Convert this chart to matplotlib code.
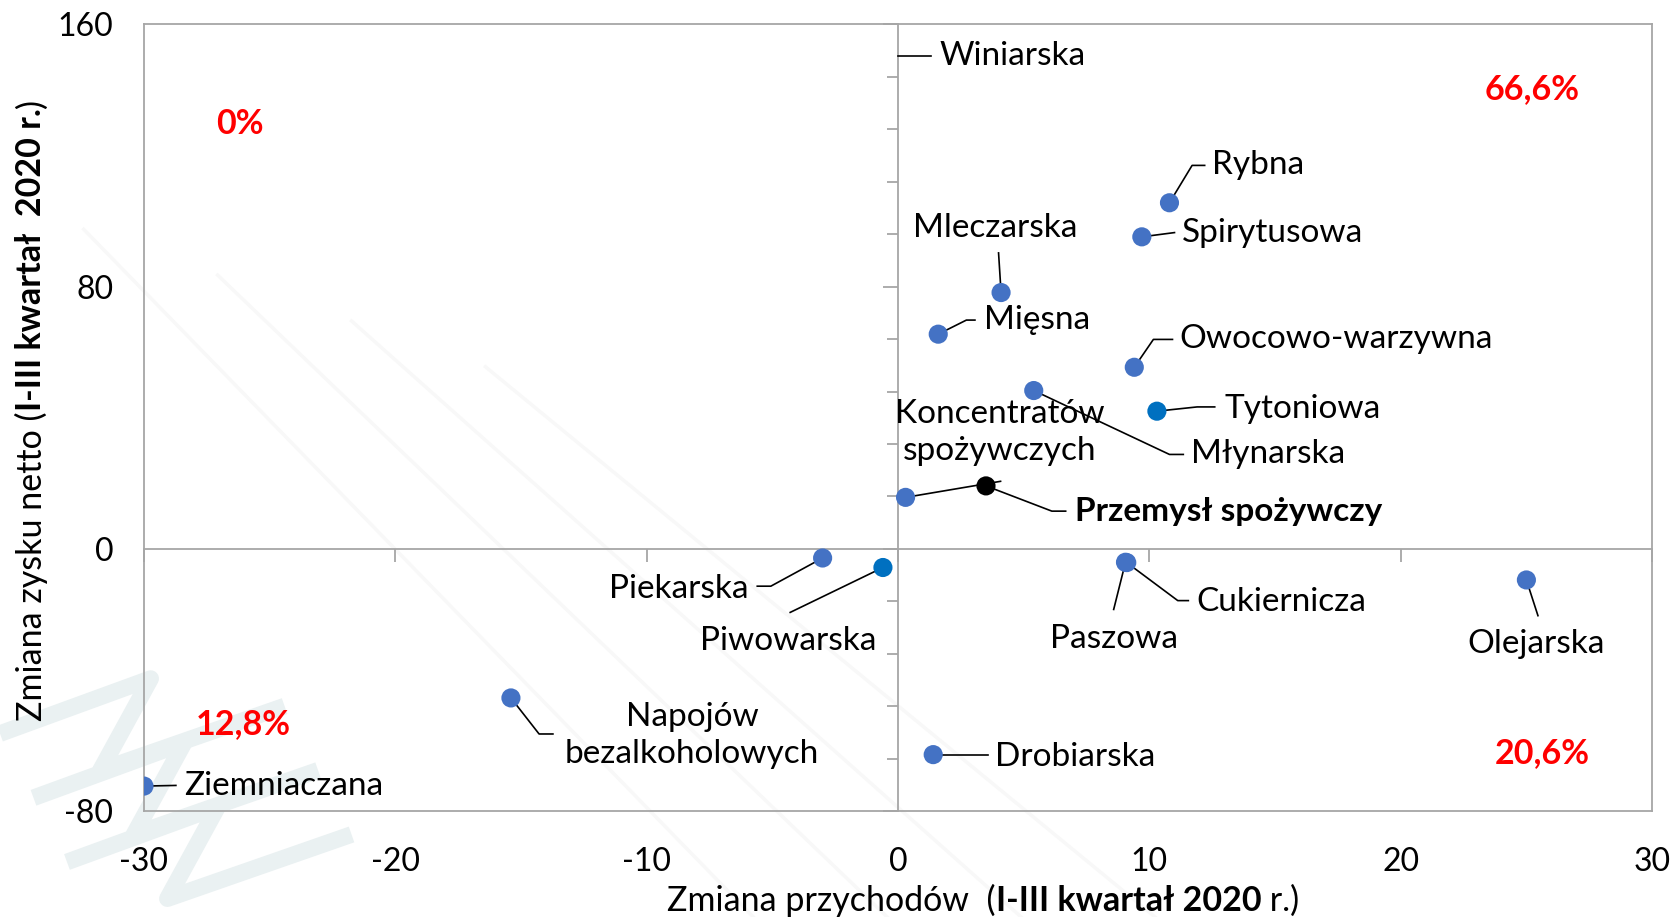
import numpy as np
import matplotlib.pyplot as plt

plt.rcParams['font.family'] = ['Lato', 'DejaVu Sans']
plt.rcParams['axes.unicode_minus'] = False

# data: change in revenue (x) and change in net profit (y), %
names = ["Winiarska", "Rybna", "Spirytusowa", "Mleczarska", "Mięsna",
         "Owocowo-warzywna", "Młynarska", "Tytoniowa", "Koncentratów\nspożywczych",
         "Przemysł spożywczy", "Piekarska", "Piwowarska", "Paszowa", "Cukiernicza",
         "Olejarska", "Napojów\nbezalkoholowych", "Drobiarska", "Ziemniaczana"]
rev = [-0.2, 10.8, 9.7, 4.1, 1.6, 9.4, 5.4, 10.3, 0.3,
       3.5, -3.0, -0.6, 9.05, 9.1, 25.0, -15.4, 1.4, -30.0]
profit = [185.0, 105.6, 95.2, 78.2, 65.5, 55.4, 48.3, 42.0, 15.7,
          19.2, -2.8, -5.7, -4.1, -4.2, -9.5, -45.5, -62.8, -72.4]
colors = ['#4472C4'] * len(names)
colors[names.index("Tytoniowa")] = '#0070C0'
colors[names.index("Piwowarska")] = '#0070C0'
colors[names.index("Przemysł spożywczy")] = 'black'

# label placement: text anchor, alignment, leader path (data coords)
label_pos = {
    "Winiarska": (1.66, 150.5, 'left', [(0, 150.5), (1.33, 150.5)]),
    "Rybna": (12.5, 117, 'left', [(11.7, 117), (12.2, 117)]),
    "Spirytusowa": (11.3, 96.5, 'left', [(11.0, 96.5)]),
    "Mleczarska": (3.87, 97.8, 'center', [(4.0, 90.3)]),
    "Mięsna": (3.44, 69.8, 'left', [(2.72, 69.8), (3.06, 69.8)]),
    "Owocowo-warzywna": (11.2, 63.9, 'left', [(10.16, 63.9), (10.92, 63.9)]),
    "Młynarska": (11.65, 28.8, 'left', [(10.8, 28.8), (11.35, 28.8)]),
    "Tytoniowa": (13.0, 42.8, 'left', [(11.9, 43.3), (12.6, 43.3)]),
    "Koncentratów\nspożywczych": (4.04, 35.6, 'center', [(4.08, 20.6)]),
    "Przemysł spożywczy": (7.05, 11.5, 'left', [(6.12, 11.5), (6.67, 11.5)]),
    "Piekarska": (-5.95, -12.3, 'right', [(-5.06, -11.4), (-5.6, -11.4)]),
    "Piwowarska": (-4.38, -28.2, 'center', [(-4.29, -19.4)]),
    "Paszowa": (8.58, -27.6, 'center', [(8.58, -18.5)]),
    "Cukiernicza": (11.86, -16.2, 'left', [(11.13, -15.8), (11.55, -15.8)]),
    "Olejarska": (25.4, -28.9, 'center', [(25.46, -20.4)]),
    "Napojów\nbezalkoholowych": (-8.2, -56.9, 'center', [(-14.28, -56.5), (-13.73, -56.5)]),
    "Drobiarska": (3.87, -63.4, 'left', [(3.57, -62.8)]),
    "Ziemniaczana": (-28.4, -72.5, 'left', [(-28.73, -72.2)]),
}

quad_text = ["66,6%", "0%", "12,8%", "20,6%"]
quad_x = [25.24, -26.18, -26.05, 25.63]
quad_y = [140.4, 129.7, -53.6, -62.4]

xticks = [-30, -20, -10, 0, 10, 20, 30]
yticks = [-80, 0, 80, 160]

grey = '#A6A6A6'
fs = 24

fig = plt.figure(figsize=(16.74, 9.17), dpi=100)

# faint watermark in the background
wm = '#EAF1F2'
for dx, dy in [(0.0, 0.0), (0.02, -0.07), (0.04, -0.14)]:
    fig.add_artist(plt.Line2D([0.0 + dx, 0.09 + dx, 0.06 + dx, 0.17 + dx],
                              [0.20 + dy, 0.26 + dy, 0.16 + dy, 0.23 + dy],
                              color=wm, lw=12, zorder=0,
                              solid_capstyle='butt'))
for k in range(4):
    fig.add_artist(plt.Line2D([0.05 + 0.08 * k, 0.45 + 0.08 * k],
                              [0.75 - 0.05 * k, 0.0], color='#F8F8F8',
                              lw=2.5, zorder=0))

ax = fig.add_axes([0.0860, 0.1156, 0.9009, 0.8577])
ax.set_facecolor('none')
ax.set_xlim(-30, 30)
ax.set_ylim(-80, 160)

ax.spines['left'].set_position(('data', 0))
ax.spines['bottom'].set_position(('data', 0))
for s in ax.spines.values():
    s.set_color(grey)
    s.set_linewidth(1.3)

ax.set_xticks(xticks)
ax.set_yticks(yticks)
ax.set_yticks(np.arange(-80, 161, 16), minor=True)
ax.tick_params(axis='x', direction='out', length=9, width=1.3, color=grey,
               labelbottom=False)
ax.tick_params(axis='y', which='major', direction='out', length=11, width=1.3,
               color=grey, labelleft=False)
ax.tick_params(axis='y', which='minor', direction='out', length=8, width=1.3,
               color=grey)

# frame tick labels on the outer edges
secx = ax.secondary_xaxis('bottom')
secx.set_xticks(xticks)
secx.tick_params(length=0, labelsize=23, pad=26)
secx.spines['bottom'].set_color(grey)
secx.spines['bottom'].set_linewidth(1.3)
secy = ax.secondary_yaxis('left')
secy.set_yticks(yticks)
secy.tick_params(length=0, labelsize=23, pad=22)
secy.spines['left'].set_color(grey)
secy.spines['left'].set_linewidth(1.3)

# leader lines and labels
for n, x, y in zip(names, rev, profit):
    tx, ty, ha, path = label_pos[n]
    if n == "Winiarska":
        px = [p[0] for p in path]
        py = [p[1] for p in path]
    else:
        px = [x] + [p[0] for p in path]
        py = [y] + [p[1] for p in path]
    ax.plot(px, py, color='black', lw=1.2, zorder=3)
    bold = 'bold' if n == "Przemysł spożywczy" else 'normal'
    ax.text(tx, ty, n, ha=ha, va='center', fontsize=fs, weight=bold,
            linespacing=1.3, zorder=5)

ax.scatter(rev, profit, s=190, c=colors, zorder=4, linewidths=0)

for t, x, y in zip(quad_text, quad_x, quad_y):
    ax.text(x, y, t, ha='center', va='center', color='#FF0000', fontsize=24.5,
            weight='bold')

# axis titles with bold parts
t1 = fig.text(0.3985, 0.0185, "Zmiana przychodów  (", fontsize=24.5,
              ha='left', va='center')
t2 = ax.annotate("I-III kwartał 2020", xy=(1, 0), xycoords=t1, fontsize=24.5,
                 weight='bold', ha='left', va='bottom', annotation_clip=False)
ax.annotate(" r.)", xy=(1, 0), xycoords=t2, fontsize=24.5,
            ha='left', va='bottom', annotation_clip=False)

y1 = fig.text(0.019, 0.214, "Zmiana zysku netto (", fontsize=24.5,
              rotation=90, ha='center', va='bottom')
y2 = ax.annotate("I-III kwartał  2020 r.", xy=(0, 1), xycoords=y1, fontsize=24.5,
                 weight='bold', rotation=90, ha='left', va='bottom',
                 annotation_clip=False)
ax.annotate(")", xy=(0, 1), xycoords=y2, fontsize=24.5, rotation=90,
            ha='left', va='bottom', annotation_clip=False)

fig.savefig('out.png', dpi=100)
